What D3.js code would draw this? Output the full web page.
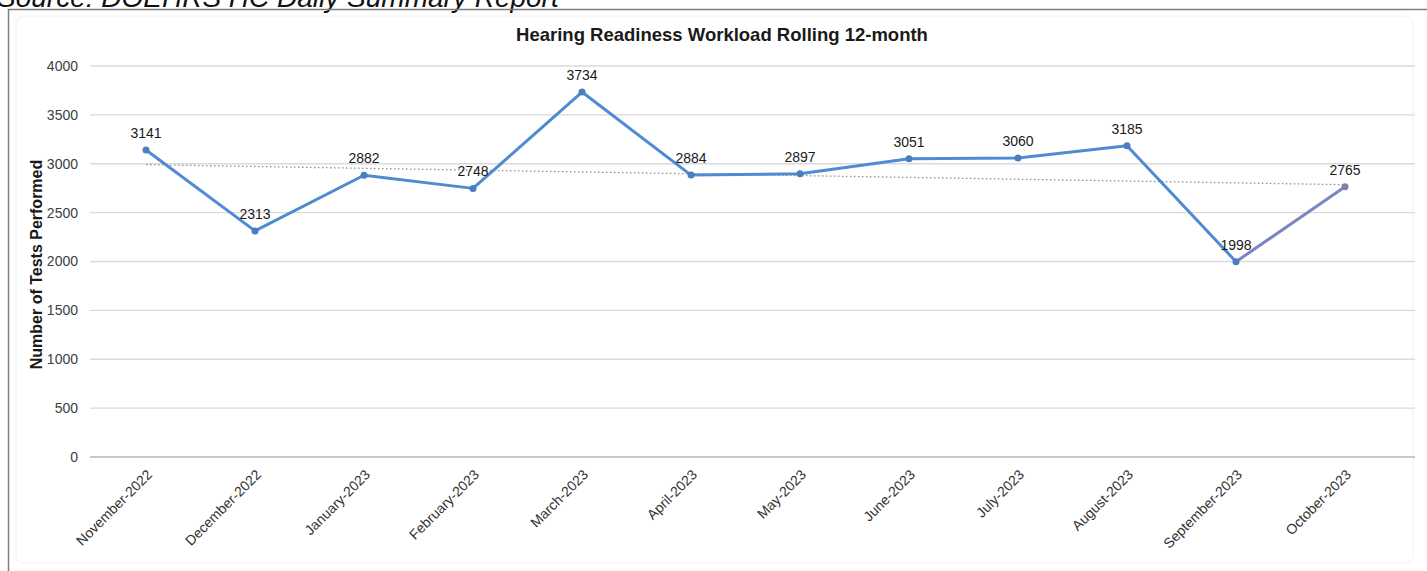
<!DOCTYPE html>
<html>
<head>
<meta charset="utf-8">
<script src="https://cdn.jsdelivr.net/npm/d3@7"></script>
<style>
  body { margin:0; background:#fff; }
  svg { font-family: "Liberation Sans", Arial, sans-serif; }
</style>
</head>
<body>
<div id="chart"></div>
<script>
var months = ["November-2022","December-2022","January-2023","February-2023","March-2023","April-2023",
  "May-2023","June-2023","July-2023","August-2023","September-2023","October-2023"];
var tests = [3141,2313,2882,2748,3734,2884,2897,3051,3060,3185,1998,2765];
var yTicks = [0,500,1000,1500,2000,2500,3000,3500,4000];

var W = 1427, H = 571;
var margin = {top:66, right:47, bottom:112, left:90};
var w = W - margin.left - margin.right;
var h = H - margin.top - margin.bottom;

var svg = d3.select("#chart").append("svg")
  .attr("width",W).attr("height",H);

// source caption, cut off at the top like the page it came from
svg.append("text")
  .attr("x",-3).attr("y",7)
  .style("font-size","28px").style("font-style","italic")
  .attr("fill","#111")
  .text("Source: DOEHRS HC Daily Summary Report");

// outer frame
svg.append("rect")
  .attr("x",8.5).attr("y",9.5).attr("width",W).attr("height",H)
  .attr("fill","none").attr("stroke","#7f7f7f").attr("stroke-width",1.5);

svg.append("rect")
  .attr("x",16).attr("y",16).attr("width",W-30).attr("height",H-24)
  .attr("rx",8).attr("fill","none").attr("stroke","#f2f2f2");

svg.append("text")
  .attr("x",722).attr("y",41)
  .attr("text-anchor","middle")
  .style("font-size","18.5px").style("font-weight","bold")
  .attr("fill","#1a1a1a")
  .text("Hearing Readiness Workload Rolling 12-month");

var g = svg.append("g")
  .attr("transform","translate("+margin.left+","+margin.top+")");

var scaleX = d3.scalePoint()
  .domain(months)
  .range([56, w - 35]);

var scaleY = d3.scaleLinear()
  .domain([0,4000])
  .range([h - 2, 0]);

// grid
g.append("g").selectAll("line")
  .data(yTicks)
  .enter().append("line")
  .attr("x1",0).attr("x2",w + 35)
  .attr("y1",function(d){ return scaleY(d); })
  .attr("y2",function(d){ return scaleY(d); })
  .attr("stroke",function(d){ return d===0 ? "#c8c8c8" : "#dadada"; })
  .attr("stroke-width",function(d){ return d===0 ? 2 : 1.3; });

var yAxis = d3.axisLeft(scaleY)
  .tickValues(yTicks)
  .tickFormat(d3.format("d"))
  .tickSize(0)
  .tickPadding(12);

var ya = g.append("g").call(yAxis);
ya.select(".domain").remove();
ya.selectAll("text").style("font-size","14px").attr("fill","#404040");

g.append("text")
  .attr("transform","translate("+(-48)+","+(h/2 + 2)+") rotate(-90)")
  .attr("text-anchor","middle")
  .style("font-size","16px").style("font-weight","bold")
  .attr("fill","#1a1a1a")
  .text("Number of Tests Performed");

var xAxis = d3.axisBottom(scaleX).tickSize(0).tickPadding(0);
var xa = g.append("g")
  .attr("transform","translate(0,"+h+")")
  .call(xAxis);
xa.select(".domain").remove();
xa.selectAll("text")
  .style("font-size","14px").attr("fill","#333")
  .attr("text-anchor","end")
  .attr("dy","0.35em")
  .attr("transform","translate(3,13) rotate(-45)");

// linear trend, least squares over the monthly values
var n = tests.length;
var mx = d3.mean(tests, function(d,i){ return i; });
var my = d3.mean(tests);
var sxy = d3.sum(tests, function(d,i){ return (i-mx)*(d-my); });
var sxx = d3.sum(tests, function(d,i){ return (i-mx)*(i-mx); });
var slope = sxy/sxx;
var trend = [my - slope*mx, my + slope*(n-1-mx)];

g.append("line")
  .attr("x1",scaleX(months[0])).attr("x2",scaleX(months[n-1]))
  .attr("y1",scaleY(trend[0])).attr("y2",scaleY(trend[1]))
  .attr("stroke","#8f8f8f").attr("stroke-width",1.3)
  .attr("stroke-dasharray","1.5,2.5");

var pts = months.map(function(m,i){ return {month:m, value:tests[i]}; });

var line = d3.line()
  .x(function(d){ return scaleX(d.month); })
  .y(function(d){ return scaleY(d.value); });

g.append("path")
  .datum(pts.slice(0, n-1))
  .attr("d",line)
  .attr("fill","none")
  .attr("stroke","#4f8bd0")
  .attr("stroke-width",3)
  .attr("stroke-linejoin","round");

g.append("path")
  .datum(pts.slice(n-2))
  .attr("d",line)
  .attr("fill","none")
  .attr("stroke","#7a86c2")
  .attr("stroke-width",3);

g.selectAll(".dot")
  .data(pts)
  .enter().append("circle")
  .attr("class","dot")
  .attr("cx",function(d){ return scaleX(d.month); })
  .attr("cy",function(d){ return scaleY(d.value); })
  .attr("r",3.5)
  .attr("fill",function(d,i){ return i===n-1 ? "#7d82a8" : "#4a7fbf"; });

g.selectAll(".lbl")
  .data(pts)
  .enter().append("text")
  .attr("class","lbl")
  .attr("x",function(d){ return scaleX(d.month); })
  .attr("y",function(d){ return scaleY(d.value) - 12; })
  .attr("text-anchor","middle")
  .style("font-size","14px")
  .attr("fill","#1a1a1a")
  .text(function(d){ return d.value; });
</script>
</body>
</html>
